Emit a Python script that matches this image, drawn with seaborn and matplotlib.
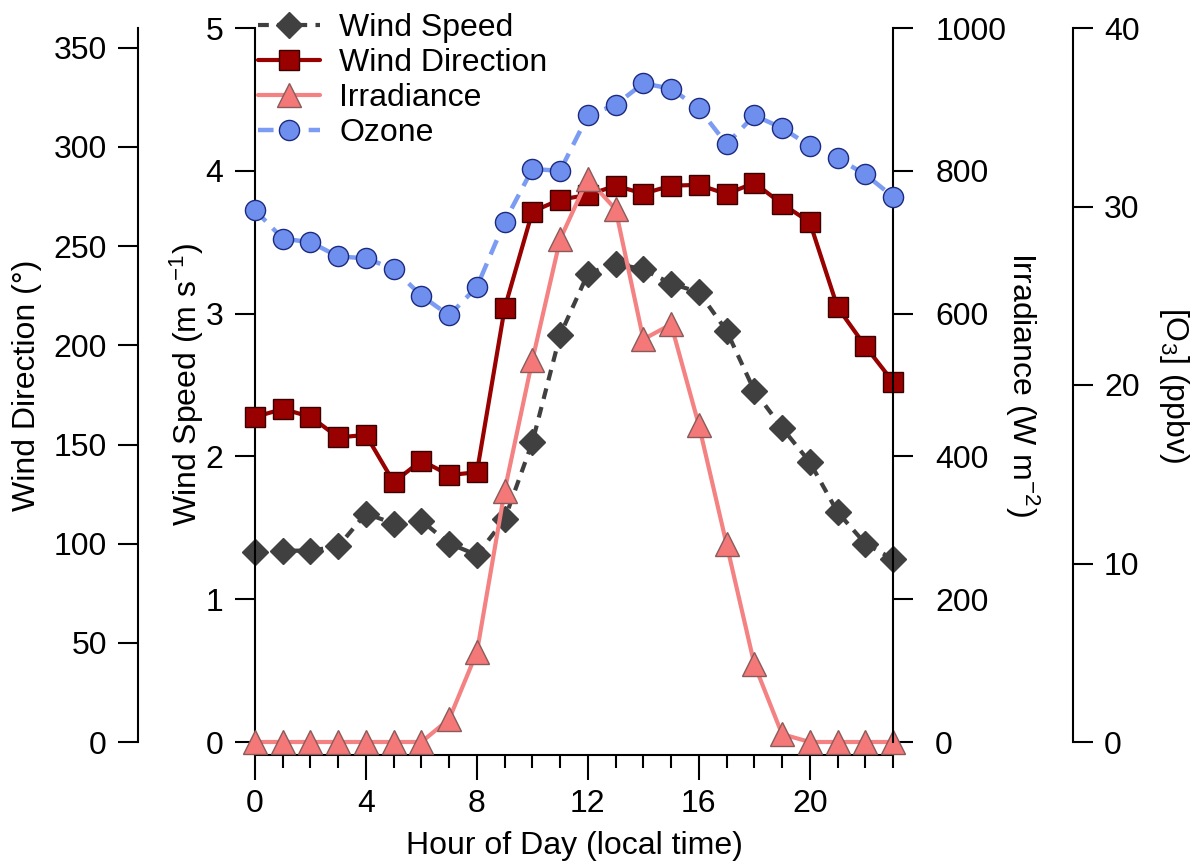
import matplotlib
matplotlib.use("Agg")
import matplotlib.pyplot as plt
import seaborn as sns
import pandas as pd
from matplotlib.ticker import MultipleLocator

# ---- data ----
hours = list(range(24))
wind_speed = [1.33, 1.34, 1.34, 1.37, 1.60, 1.53, 1.55, 1.39, 1.31, 1.56, 2.10, 2.85,
              3.28, 3.35, 3.31, 3.21, 3.15, 2.88, 2.46, 2.20, 1.96, 1.61, 1.39, 1.28]
wind_dir = [163.9, 167.9, 164.0, 153.6, 154.8, 131.0, 141.9, 134.6, 136.0, 218.7, 267.4, 273.5,
            275.8, 280.5, 276.5, 280.5, 280.9, 276.3, 281.9, 271.3, 262.1, 219.2, 199.6, 181.6]
irradiance = [0, 0, 0, 0, 0, 0, 0, 32, 126, 352, 535, 704,
              789, 746, 564, 585, 444, 277, 109, 11, 0, 0, 0, 0]
ozone = [29.8, 28.2, 28.0, 27.2, 27.1, 26.5, 25.0, 23.9, 25.5, 29.15, 32.1, 32.0,
         35.1, 35.7, 36.9, 36.6, 35.5, 33.5, 35.1, 34.4, 33.4, 32.7, 31.8, 30.55]

x_ticks = [0, 4, 8, 12, 16, 20]
speed_ticks = [0, 1, 2, 3, 4, 5]
dir_ticks = [0, 50, 100, 150, 200, 250, 300, 350]
irr_ticks = [0, 200, 400, 600, 800, 1000]
o3_ticks = [0, 10, 20, 30, 40]

df = pd.DataFrame({"hour": hours, "speed": wind_speed, "dir": wind_dir,
                   "irr": irradiance, "o3": ozone})

sns.set_theme(style="ticks")
plt.rcParams["font.family"] = ["Liberation Sans", "DejaVu Sans"]
plt.rcParams["mathtext.default"] = "regular"
plt.rcParams["font.size"] = 23
for k in ["text.color", "axes.labelcolor", "xtick.color", "ytick.color", "axes.edgecolor"]:
    plt.rcParams[k] = "black"

W, H = 1193, 865
fig = plt.figure(figsize=(W / 100, H / 100), dpi=100)
L, R, T, B = 255, 893, 28, 742
ax = fig.add_axes([L / W, 1 - B / H, (R - L) / W, (B - T) / H])
ax_dir = ax.twinx()
ax_irr = ax.twinx()
ax_o3 = ax.twinx()

FS = 23
LW_SP = 1.5
TL = 14.4

# --- series ---
sns.lineplot(data=df, x="hour", y="dir", ax=ax_dir, color="#990000", lw=3,
             marker="s", markersize=14.5, markerfacecolor="#990000",
             markeredgecolor="#3a0000", markeredgewidth=1.0, clip_on=False,
             label="Wind Direction", legend=False, errorbar=None)
sns.lineplot(data=df, x="hour", y="speed", ax=ax, color="#404040", lw=3,
             linestyle=(0, (2.6, 2.0)),
             marker="D", markersize=13, markerfacecolor="#404040",
             markeredgecolor="#404040", markeredgewidth=1.0, clip_on=False,
             label="Wind Speed", legend=False, errorbar=None)
sns.lineplot(data=df, x="hour", y="irr", ax=ax_irr, color="#F58282", lw=3,
             marker="^", markersize=17, markerfacecolor="#F47878",
             markeredgecolor="#8a5a5a", markeredgewidth=1.0, clip_on=False,
             label="Irradiance", legend=False, errorbar=None)
sns.lineplot(data=df, x="hour", y="o3", ax=ax_o3, color="#7B9CF2", lw=3.2,
             linestyle=(0, (3.5, 2.2)),
             marker="o", markersize=14.5, markerfacecolor="#6F8FEF",
             markeredgecolor="#1C2A80", markeredgewidth=1.0, clip_on=False,
             label="Ozone", legend=False, errorbar=None)

# --- host axis (wind speed + x) ---
ax.set_xlim(0, 23)
ax.set_ylim(0, 5)
ax.set_xticks(x_ticks)
ax.xaxis.set_minor_locator(MultipleLocator(1))
ax.set_yticks(speed_ticks)
for s in ["top", "right"]:
    ax.spines[s].set_visible(False)
ax.spines["bottom"].set_position(("outward", 9))
for s in ["left", "bottom"]:
    ax.spines[s].set_linewidth(LW_SP)
    ax.spines[s].set_color("black")
ax.tick_params(axis="x", which="major", direction="out", length=18, width=LW_SP,
               pad=7, labelsize=FS, colors="black")
ax.tick_params(axis="x", which="minor", direction="out", length=9, width=LW_SP,
               colors="black")
ax.tick_params(axis="y", which="major", direction="out", length=TL, width=LW_SP,
               pad=8.5, labelsize=FS, colors="black")
ax.set_xlabel("Hour of Day (local time)", fontsize=FS)
ax.set_ylabel("Wind Speed (m s$^{-1}$)", fontsize=FS)
ax.xaxis.set_label_coords(0.5, -(846 - B) / (B - T))
ax.xaxis.label.set_verticalalignment("center")
ax.yaxis.set_label_coords((187 - L) / (R - L), 0.5)
ax.yaxis.label.set_verticalalignment("center")

# --- wind direction (far left) ---
ax_dir.set_ylim(0, 360)
ax_dir.set_yticks(dir_ticks)
ax_dir.yaxis.tick_left()
ax_dir.yaxis.set_label_position("left")
for s in ["top", "right", "bottom"]:
    ax_dir.spines[s].set_visible(False)
ax_dir.spines["left"].set_visible(True)
ax_dir.spines["left"].set_position(("outward", (L - 138) * 0.72))
ax_dir.spines["left"].set_linewidth(LW_SP)
ax_dir.spines["left"].set_color("black")
ax_dir.tick_params(axis="y", direction="out", length=TL, width=LW_SP, pad=8,
                   labelsize=FS, colors="black")
ax_dir.set_ylabel("Wind Direction (°)", fontsize=FS, rotation=90)
ax_dir.yaxis.set_label_coords((27 - L) / (R - L), 0.5)
ax_dir.yaxis.label.set_verticalalignment("center")

# --- irradiance (right) ---
ax_irr.set_ylim(0, 1000)
ax_irr.set_yticks(irr_ticks)
for s in ["top", "left", "bottom"]:
    ax_irr.spines[s].set_visible(False)
ax_irr.spines["right"].set_linewidth(LW_SP)
ax_irr.spines["right"].set_color("black")
ax_irr.tick_params(axis="y", direction="out", length=TL, width=LW_SP, pad=16,
                   labelsize=FS, colors="black")
ax_irr.set_ylabel("Irradiance (W m$^{-2}$)", fontsize=FS, rotation=270)
ax_irr.yaxis.set_label_coords((1022 - L) / (R - L), 0.5)
ax_irr.yaxis.label.set_verticalalignment("center")

# --- ozone (far right) ---
ax_o3.set_ylim(0, 40)
ax_o3.set_yticks(o3_ticks)
for s in ["top", "left", "bottom"]:
    ax_o3.spines[s].set_visible(False)
ax_o3.spines["right"].set_position(("outward", (1073 - R) * 0.72))
ax_o3.spines["right"].set_linewidth(LW_SP)
ax_o3.spines["right"].set_color("black")
ax_o3.tick_params(axis="y", direction="out", length=TL, width=LW_SP, pad=8,
                  labelsize=FS, colors="black")
ax_o3.set_ylabel("[O$_3$] (ppbv)", fontsize=FS, rotation=270)
ax_o3.yaxis.set_label_coords((1174 - L) / (R - L), 0.5)
ax_o3.yaxis.label.set_verticalalignment("center")

for a in (ax, ax_dir, ax_irr, ax_o3):
    a.set_xlim(0, 23)
    a.grid(False)

# --- legend ---
handles, labels = [], []
for a in (ax, ax_dir, ax_irr, ax_o3):
    h, l = a.get_legend_handles_labels()
    handles += h
    labels += l
fig.legend(handles, labels, loc="upper left",
           bbox_to_anchor=(258 / W, 1 - 13 / H), frameon=False,
           borderpad=0, borderaxespad=0, handlelength=1.95, handletextpad=0.6,
           labelspacing=0.16, fontsize=FS, numpoints=1)

fig.savefig("out.png", dpi=100)
